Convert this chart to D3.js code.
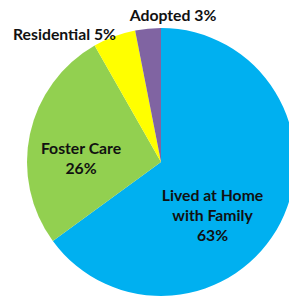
<!DOCTYPE html>
<html><head><meta charset="utf-8">
<script src="https://cdn.jsdelivr.net/npm/d3@7"></script>
<style>body{margin:0;background:#fff}svg{display:block}</style>
</head><body>
<svg id="c" width="289" height="297"></svg>
<script>
const categories = ["Lived at Home with Family", "Foster Care", "Residential", "Adopted"];
const values = [63, 26, 5, 3];
const labels = ["Lived at Home|with Family|63%", "Foster Care|26%", "Residential 5%", "Adopted 3%"];
const colors = ["#00B0F0", "#92D050", "#FFFF00", "#8064A2"];

const svg = d3.select("#c");
const cx = 161, cy = 162, R = 134;
const g = svg.append("g").attr("transform", `translate(${cx},${cy})`);
const pie = d3.pie().sort(null).value(d => d)(values);
const arc = d3.arc().innerRadius(0).outerRadius(R);
g.selectAll("path").data(pie).join("path")
  .attr("d", arc).attr("fill", (d, i) => colors[i]);

const font = "Lato, 'Open Sans', sans-serif";
// fit font size so that "Residential 5%" spans ~103px as in the reference
const probe = svg.append("text").attr("font-family", font).attr("font-weight", "bold")
  .attr("font-size", 100).text("Residential 5%");
const w100 = probe.node().getComputedTextLength();
probe.remove();
const fs = Math.min(18, 103 / w100 * 100);

// label anchor offsets (layout) relative to pie centre: [dx, first baseline dy]
const labelPos = [[51.5, 38.5], [-80, -8], [-96.5, -122], [12, -141.5]];
labels.forEach((t, i) => {
  const lines = t.split("|");
  const txt = g.append("text")
    .attr("text-anchor", "middle")
    .attr("font-family", font).attr("font-weight", "bold")
    .attr("font-size", fs).attr("fill", "#111");
  lines.forEach((l, j) => {
    txt.append("tspan").attr("x", labelPos[i][0])
      .attr("y", labelPos[i][1] + j * 20).text(l);
  });
});
</script>
</body></html>
